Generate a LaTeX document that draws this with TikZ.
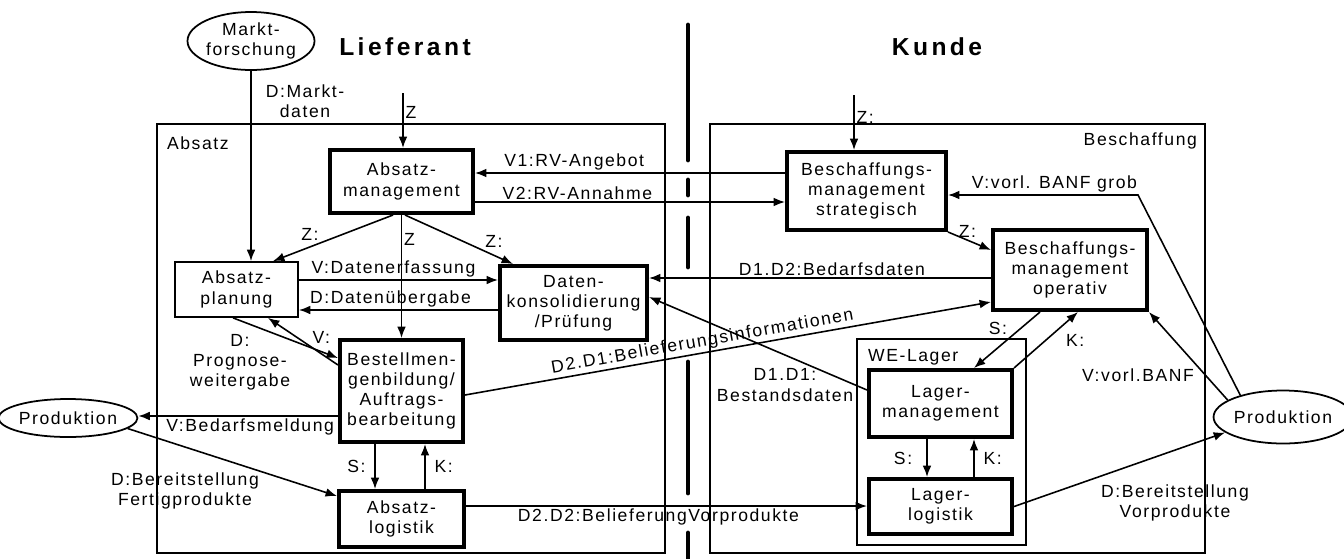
\documentclass[tikz,border=0pt]{standalone}
\usepackage{fontspec}
\setmainfont{Liberation Sans}[LetterSpace=9]
\usetikzlibrary{positioning,shapes,arrows,arrows.meta}

\begin{document}
\begin{tikzpicture}[
	x=0.02cm, y=-0.02cm,
	every node/.style={font=\fontsize{10}{11.5}\selectfont, inner sep=1pt},
	mybox/.style={draw, line width=2.3pt, rectangle, align=center, inner sep=0pt},
	thinbox/.style={draw, line width=1pt, rectangle, align=center, inner sep=0pt},
	myell/.style={draw, line width=1pt, ellipse, align=center, inner sep=0pt},
	bereich/.style={line width=1pt},
	lbl/.style={align=center},
	titel/.style={font=\fontsize{14}{16}\selectfont\bfseries\addfontfeature{LetterSpace=14}},
	con/.style={-{Latex[length=6.5pt,width=5pt]}, line width=0.9pt}
	]

	\useasboundingbox (0,0) rectangle (1344,558);

	% Bereiche und Trennlinie
	\draw[bereich] (157,124) rectangle (665,553);
	\draw[bereich] (710,124) rectangle (1205,553);
	\draw[bereich] (857,339) rectangle (1026,545);
	\foreach \ya/\yb in {25/160, 180/195, 218/267, 362/493, 533/560}
		\draw[line width=2.8pt, line cap=round] (688,\ya) -- (688,\yb);

	\node[titel] (lief) at (405,47) {Lieferant};
	\node[titel] (kunde) at (937,47) {Kunde};
	\node[anchor=west] (labs) at (165,143) {Absatz};
	\node[anchor=east] (lbes) at (1199,141) {Beschaffung};
	\node[anchor=west] (lwe) at (866,357) {WE-Lager};

	% Lieferant
	\node[myell, minimum width=2.5cm, minimum height=1.16cm] (mf) at (251,41) {Markt-\\forschung};
	\node[mybox, minimum width=2.86cm, minimum height=1.26cm] (amgmt) at (401.5,181.5) {Absatz-\\management};
	\node[thinbox, minimum width=2.46cm, minimum height=1.1cm] (apl) at (236.5,289.5) {Absatz-\\planung};
	\node[mybox, minimum width=2.94cm, minimum height=1.48cm] (daten) at (573.5,303) {Daten-\\konsolidierung\\/Prüfung};
	\node[mybox, minimum width=2.46cm, minimum height=2.04cm] (bestell) at (401.5,391) {Bestellmen-\\genbildung/\\Auftrags-\\bearbeitung};
	\node[mybox, minimum width=2.5cm, minimum height=1.12cm, below=0.9cm of bestell] (alog) {Absatz-\\logistik};
	\node[myell, minimum width=2.46cm, minimum height=0.76cm] (prodL) at (68,418) {Produktion};

	% Kunde
	\node[mybox, minimum width=3.18cm, minimum height=1.56cm] (strat) at (866.5,191) {Beschaffungs-\\management\\strategisch};
	\node[mybox, minimum width=3.08cm, minimum height=1.6cm] (oper) at (1070,270) {Beschaffungs-\\management\\operativ};
	\node[mybox, minimum width=2.86cm, minimum height=1.34cm] (lmgmt) at (940.5,403.5) {Lager-\\management};
	\node[mybox, minimum width=2.86cm, minimum height=1.1cm, below=0.76cm of lmgmt] (llog) {Lager-\\logistik};
	\node[myell, minimum width=2.34cm, minimum height=1.06cm] (prodR) at (1283,417) {Produktion};

	\coordinate (zin1) at (403,93);
	\coordinate (zin2) at (854,95);
	\coordinate (knick) at (1138,195);

	% Verbindungen Lieferant
	\draw[con] (mf.south) -- (mf.south |- apl.north);
	\node[lbl] (tmd) at (305,101) {D:Markt-\\daten};
	\draw[con] (zin1) -- (zin1 |- amgmt.north) node[pos=0.35, right] {Z};
	\draw[con] ([xshift=-0.17cm]amgmt.south) -- ([xshift=0.73cm]apl.north) node[pos=0.6, above left] {Z:};
	\draw[con] (amgmt.south) -- (bestell.north) node[pos=0.2, right] {Z};
	\draw[con] ([xshift=0.07cm]amgmt.south) -- ([xshift=-1.21cm]daten.north) node[pos=0.72, above right] {Z:};
	\draw[con] ([yshift=0.19cm]apl.east) -- ([yshift=0.19cm]apl.east -| daten.west) node[pos=0.475, above] {V:Datenerfassung};
	\draw[con] ([yshift=-0.41cm]apl.east -| daten.west) -- ([yshift=-0.41cm]apl.east) node[pos=0.54, above] {D:Datenübergabe};
	\draw[con] ([xshift=-0.07cm]apl.south) -- ([yshift=0.66cm]bestell.west);
	\node[lbl] (tprog) at (240,362) {D:\\Prognose-\\weitergabe};
	\draw[con] ([yshift=0.52cm]bestell.west) -- ([xshift=0.63cm]apl.south) node[pos=0.4, above right] {V:};
	\draw[con] ([yshift=-0.5cm]bestell.west) -- ([yshift=-0.5cm]bestell.west -| prodL.east) node[pos=0.44, below] {V:Bedarfsmeldung};
	\draw[con] (prodL.-10) -- ([yshift=0.46cm]alog.west);
	\node[lbl] (tfert) at (185,491) {D:Bereitstellung\\Fertigprodukte};
	\draw[con] ([xshift=-0.53cm]bestell.south) -- ([xshift=-0.53cm]bestell.south |- alog.north) node[midway, left=4pt] {S:};
	\draw[con] ([xshift=0.47cm]alog.north) -- ([xshift=0.47cm]alog.north |- bestell.south) node[midway, right=4pt] {K:};

	% Verbindungen zwischen Lieferant und Kunde
	\draw[con] ([yshift=0.36cm]strat.west) -- ([yshift=0.36cm]strat.west -| amgmt.east) node[pos=0.68, above] {V1:RV-Angebot};
	\draw[con] ([yshift=-0.41cm]amgmt.east) -- ([yshift=-0.41cm]amgmt.east -| strat.west) node[pos=0.33, above] {V2:RV-Annahme};
	\draw[con] ([yshift=-0.08cm]bestell.east) -- ([yshift=-0.64cm]oper.west) node[pos=0.455, sloped, above] {D2.D1:Belieferungsinformationen};
	\draw[con] ([yshift=-0.16cm]oper.west) -- ([yshift=-0.16cm]oper.west -| daten.east) node[pos=0.465, above] {D1.D2:Bedarfsdaten};
	\draw[con] ([yshift=0.27cm]lmgmt.west) -- ([yshift=0.12cm]daten.east);
	\node[lbl] (tbest) at (785,385) {D1.D1:\\Bestandsdaten};
	\draw[con] ([yshift=0.26cm]alog.east) -- ([yshift=0.26cm]alog.east -| llog.west) node[pos=0.48, below] {D2.D2:BelieferungVorprodukte};

	% Verbindungen Kunde
	\draw[con] (zin2) -- (zin2 |- strat.north) node[pos=0.4, right] {Z:};
	\draw[con] (strat.south east) -- ([yshift=0.4cm]oper.west) node[pos=0.45, above] {Z:};
	\draw[con] ([xshift=-0.6cm]oper.south) -- ([xshift=0.67cm]lmgmt.north) node[pos=0.3, left=6pt] {S:};
	\draw[con] (lmgmt.north east) -- ([xshift=0.16cm]oper.south) node[pos=0.5, right=10pt] {K:};
	\draw[con] ([xshift=-0.27cm]lmgmt.south) -- ([xshift=-0.27cm]lmgmt.south |- llog.north) node[midway, left=7pt] {S:};
	\draw[con] ([xshift=0.67cm]llog.north) -- ([xshift=0.67cm]llog.north |- lmgmt.south) node[midway, right=4pt] {K:};
	\draw[con] (llog.east) -- (prodR.195);
	\node[lbl] (tvorp) at (1175,503) {D:Bereitstellung\\Vorprodukte};
	\draw[con] (prodR.163) -- (oper.south east);
	\node[lbl] (tbanf) at (1138,375) {V:vorl.BANF};
	\draw[con] (prodR.153) -- (knick) -- (knick -| strat.east) node[pos=0.44, above] {V:vorl. BANF grob};

\end{tikzpicture}
\end{document}
